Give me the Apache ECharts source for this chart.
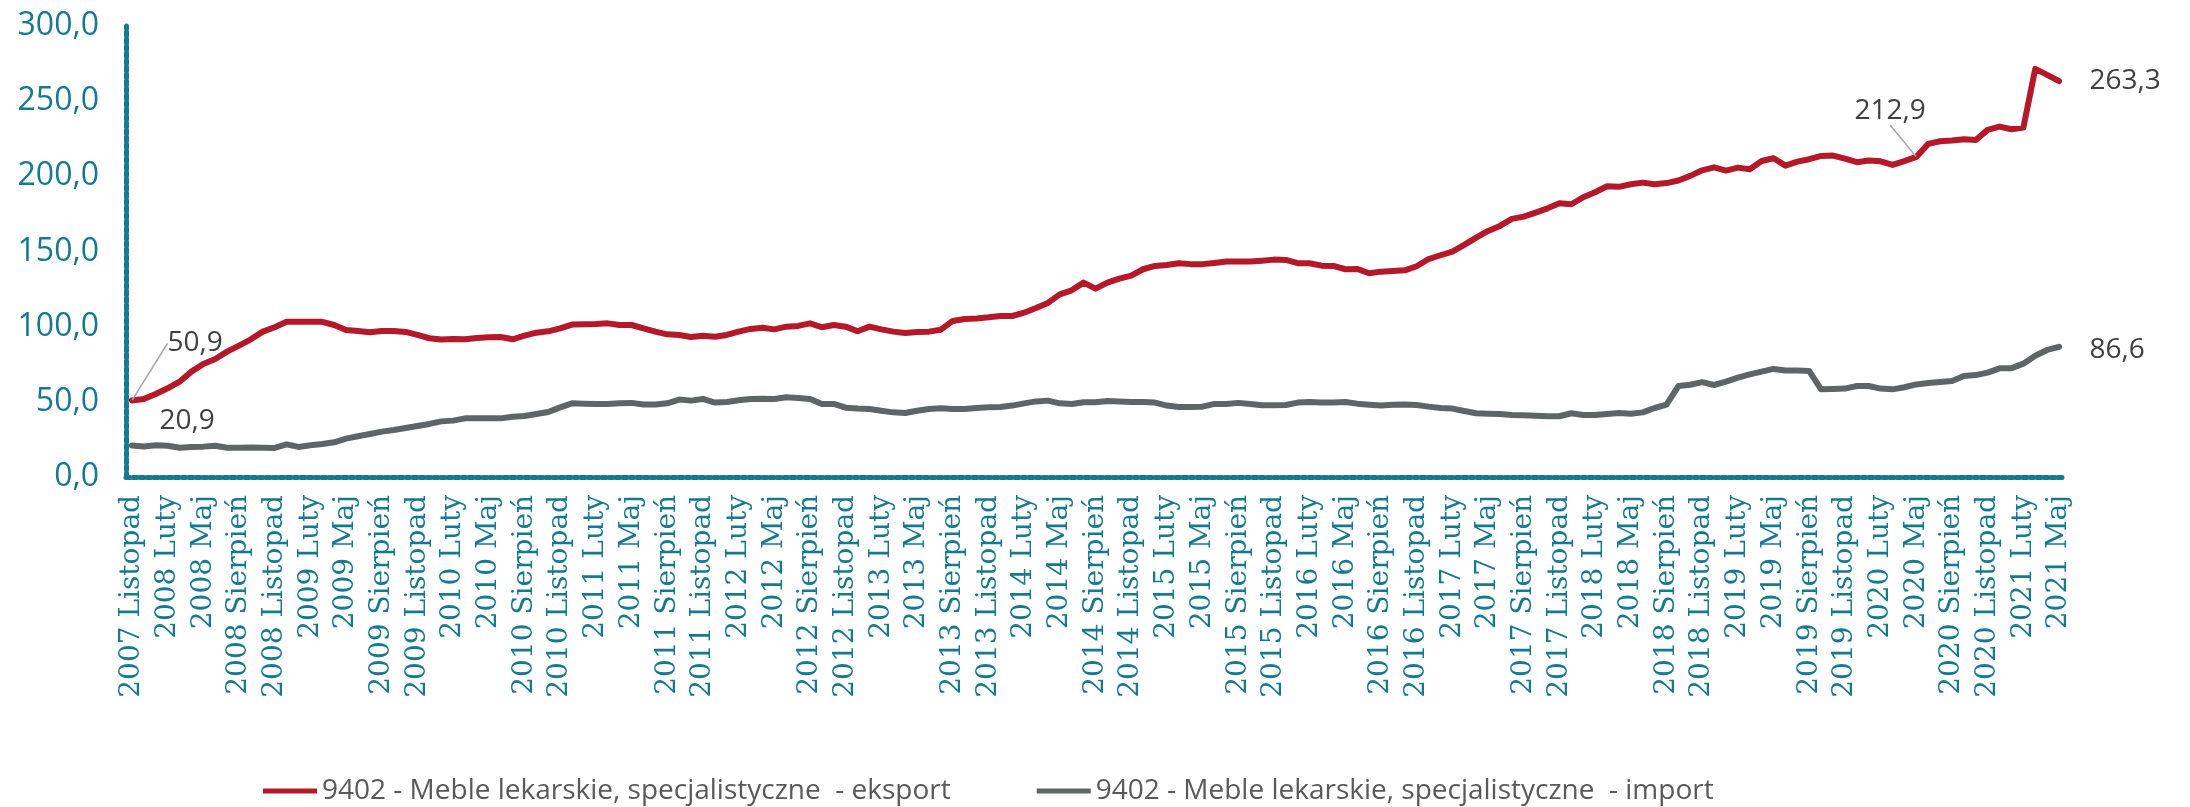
<!DOCTYPE html>
<html>
<head>
<meta charset="utf-8">
<script src="https://cdn.jsdelivr.net/npm/echarts@6/dist/echarts.min.js"></script>
<style>
  html, body { margin: 0; padding: 0; background: #fff; }
  #chart { width: 2190px; height: 807px; }
</style>
</head>
<body>
<div id="chart"></div>
<script>
// miesiące - etykiety osi X (od 2007 Listopad do 2021 Maj)
const monthNames = ['Styczeń', 'Luty', 'Marzec', 'Kwiecień', 'Maj', 'Czerwiec', 'Lipiec',
  'Sierpień', 'Wrzesień', 'Październik', 'Listopad', 'Grudzień'];
const startYear = 2007, startMonth = 10; // listopad
const pointCount = 163;

const seriesNames = [
  '9402 - Meble lekarskie, specjalistyczne  - eksport',
  '9402 - Meble lekarskie, specjalistyczne  - import'
];

// eksport
const exportValues = [
  50.9, 51.9, 55.2, 59.0, 63.4, 70.1, 75.2, 78.5, 83.4, 87.4,
  91.6, 96.7, 99.6, 103.3, 103.3, 103.3, 103.2, 101.1, 97.8, 97.1,
  96.3, 97.1, 97.1, 96.5, 94.5, 92.3, 91.4, 91.8, 91.6, 92.5,
  92.9, 93.1, 91.6, 94.0, 96.0, 96.9, 98.9, 101.4, 101.6, 101.8,
  102.2, 101.1, 101.1, 98.9, 96.7, 94.9, 94.5, 93.1, 94.0, 93.3,
  94.5, 96.7, 98.5, 99.3, 98.2, 100.0, 100.5, 102.2, 99.6, 101.1,
  100.0, 96.9, 100.0, 98.2, 96.7, 95.8, 96.4, 96.7, 98.0, 103.8,
  105.1, 105.5, 106.2, 107.1, 107.1, 109.3, 112.4, 115.8, 121.5, 124.2,
  129.3, 125.3, 129.3, 132.0, 133.9, 138.2, 140.4, 141.0, 142.2, 141.6,
  141.6, 142.4, 143.3, 143.3, 143.3, 143.9, 144.6, 144.4, 142.2, 142.2,
  140.6, 140.4, 138.2, 138.4, 135.5, 136.6, 137.1, 137.5, 140.2, 145.0,
  147.5, 149.9, 154.4, 159.2, 163.7, 167.0, 171.7, 173.2, 175.9, 178.7,
  182.1, 181.4, 186.1, 189.4, 193.4, 193.0, 194.7, 195.8, 194.7, 195.5,
  197.2, 200.3, 204.0, 206.0, 203.8, 205.8, 204.7, 210.2, 212.0, 207.1,
  209.8, 211.4, 213.6, 213.8, 211.8, 209.4, 210.5, 210.0, 207.6, 210.1,
  212.9, 221.6, 223.3, 223.8, 224.7, 224.2, 230.9, 233.1, 231.3, 232.4,
  271.5, 267.5, 263.3
];

// import
const importValues = [
  20.9, 20.3, 21.1, 20.8, 19.5, 20.0, 20.2, 20.8, 19.5, 19.5,
  19.7, 19.5, 19.3, 21.7, 20.0, 21.1, 22.0, 23.1, 25.5, 27.1,
  28.6, 30.2, 31.3, 32.6, 33.9, 35.3, 37.0, 37.5, 39.0, 39.0,
  39.0, 39.0, 40.1, 40.6, 41.9, 43.2, 46.3, 49.0, 48.8, 48.6,
  48.6, 49.0, 49.3, 48.2, 48.2, 49.0, 51.5, 50.8, 51.9, 49.5,
  49.9, 51.0, 51.9, 52.1, 51.9, 53.0, 52.6, 51.9, 48.6, 48.6,
  46.1, 45.5, 45.2, 44.1, 43.0, 42.6, 44.1, 45.2, 45.7, 45.2,
  45.2, 45.9, 46.4, 46.6, 47.5, 49.0, 50.3, 50.8, 49.0, 48.6,
  49.7, 49.7, 50.6, 50.3, 49.9, 49.9, 49.5, 47.5, 46.6, 46.6,
  46.8, 48.6, 48.6, 49.3, 48.6, 47.7, 47.7, 47.9, 49.5, 49.9,
  49.5, 49.5, 49.9, 48.8, 48.1, 47.5, 48.1, 48.3, 47.9, 46.8,
  45.9, 45.5, 43.9, 42.4, 42.1, 41.9, 41.3, 41.0, 40.8, 40.4,
  40.4, 42.4, 41.3, 41.3, 41.9, 42.6, 42.1, 43.0, 45.9, 48.1,
  60.5, 61.4, 63.1, 61.2, 63.4, 66.1, 68.3, 70.1, 71.9, 70.8,
  70.8, 70.5, 58.3, 58.5, 58.8, 60.5, 60.5, 58.8, 58.3, 59.7,
  61.6, 62.5, 63.2, 63.9, 67.2, 67.8, 69.4, 72.3, 72.3, 75.4,
  80.7, 84.5, 86.6
];

// punkty z etykietą
const exportLabelIdx = [0, 150, 162];
const importLabelIdx = [0, 162];

const categories = [];
for (let i = 0; i < pointCount; i++) {
  const m = startMonth + i;
  categories.push((startYear + Math.floor(m / 12)) + ' ' + monthNames[m % 12]);
}

const fmt = v => v.toFixed(1).replace('.', ',');
const teal = '#17798f';
const axisDots = { color: teal, width: 5, type: [4, 3] };
const labelFont = { fontFamily: "'Open Sans', sans-serif", fontSize: 28, color: '#404040' };

function withLabels(values, idxList, labelCfg) {
  return values.map((v, i) => {
    if (idxList.indexOf(i) < 0) return v;
    return Object.assign({ value: v }, labelCfg(i));
  });
}

const chart = echarts.init(document.getElementById('chart'));

const option = {
  animation: false,
  backgroundColor: '#fff',
  grid: { left: 126, right: 125, top: 26, bottom: 330 },
  legend: {
    left: 258,
    top: 772,
    itemGap: 86,
    itemWidth: 54,
    itemHeight: 5,
    icon: 'rect',
    textStyle: { fontFamily: "'Open Sans', sans-serif", fontSize: 28, color: '#595959' },
    data: seriesNames
  },
  xAxis: {
    type: 'category',
    boundaryGap: true,
    data: categories,
    axisLine: { lineStyle: axisDots },
    axisTick: { show: false },
    axisLabel: {
      interval: 2,
      rotate: 90,
      margin: 18,
      color: teal,
      fontFamily: "'DejaVu Serif', serif",
      fontSize: 28
    },
    splitLine: { show: false }
  },
  yAxis: {
    type: 'value',
    min: 0,
    max: 300,
    interval: 50,
    axisLine: { show: true, lineStyle: axisDots },
    axisTick: { show: false },
    splitLine: { show: false },
    axisLabel: {
      margin: 27,
      color: teal,
      fontFamily: "'Open Sans', sans-serif",
      fontSize: 32,
      formatter: fmt
    }
  },
  series: [
    {
      name: seriesNames[0],
      type: 'line',
      symbol: 'circle',
      symbolSize: 1,
      showSymbol: true,
      showAllSymbol: true,
      silent: true,
      itemStyle: { color: '#b41829' },
      lineStyle: { color: '#b41829', width: 6, cap: 'round', join: 'round' },
      label: { show: false },
      labelLine: { show: false },
      data: withLabels(exportValues, exportLabelIdx, i => ({
        label: Object.assign({
          show: true,
          formatter: p => fmt(p.value),
          position: i === 150 ? 'left' : 'right',
          distance: i === 162 ? 30 : 5
        }, labelFont),
        labelLine: { show: i !== 162, lineStyle: { color: '#a6a6a6', width: 1.5 } }
      })),
      labelLayout: p => {
        if (p.dataIndex === 0) return { dx: 30, dy: -57 };
        if (p.dataIndex === 150) return { dx: 15, dy: -46 };
        return {};
      }
    },
    {
      name: seriesNames[1],
      type: 'line',
      symbol: 'circle',
      symbolSize: 1,
      showSymbol: true,
      showAllSymbol: true,
      silent: true,
      itemStyle: { color: '#5f6567' },
      lineStyle: { color: '#5f6567', width: 6, cap: 'round', join: 'round' },
      label: { show: false },
      data: withLabels(importValues, importLabelIdx, i => ({
        label: Object.assign({
          show: true,
          formatter: p => fmt(p.value),
          position: 'right',
          distance: i === 0 ? 5 : 30,
          offset: i === 0 ? [22, -25] : [0, 3]
        }, labelFont)
      }))
    }
  ]
};

chart.setOption(option);
</script>
</body>
</html>
